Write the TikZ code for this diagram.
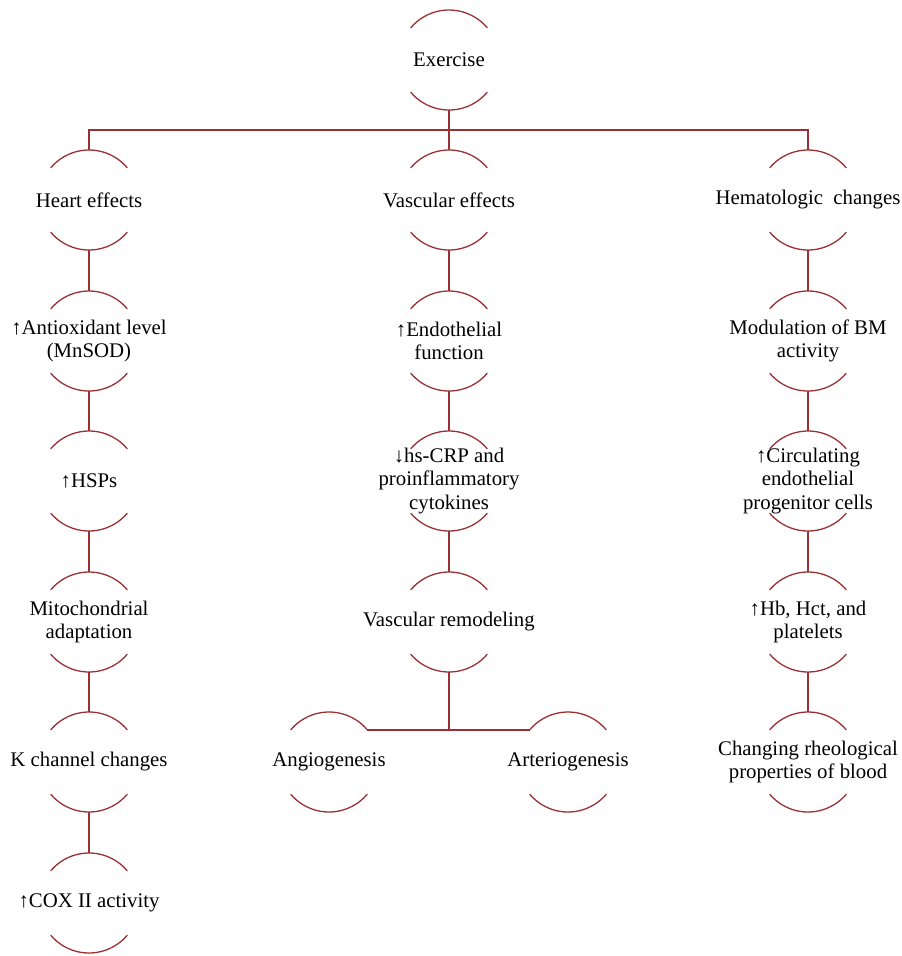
\documentclass[tikz,border=0pt]{standalone}
\usepackage{fontspec}
\setmainfont{Liberation Serif}
\definecolor{linered}{RGB}{155,48,52}
\tikzset{
  x=1pt, y=1pt,
  ring/.style={circle, draw=none, minimum size=100pt, inner sep=0pt, outer sep=0pt},
  txt/.style={align=center, font=\fontsize{20.8}{23.5}\selectfont, text=black, inner sep=0pt},
  conn/.style={draw=linered, line width=1.3pt},
}
\newcommand{\cell}[4]{%
  \node[ring] (#1) at (#2,#3) {};
  \node[txt] (#1-t) at (#1.center) {#4};
  \draw[conn] (#1.40) arc (40:140:50pt);
  \draw[conn] (#1.220) arc (220:320:50pt);
}
\begin{document}
\begin{tikzpicture}
\useasboundingbox (0,0) rectangle (902,-956);
% top
\cell{ex}{449}{-60}{Exercise}
% left column
\cell{heart}{89}{-200}{Heart effects}
\cell{anti}{89}{-341}{↑Antioxidant level\\(MnSOD)}
\cell{hsp}{89}{-481}{↑HSPs}
\cell{mito}{89}{-622}{Mitochondrial\\adaptation}
\cell{kch}{89}{-762}{K channel changes}
\cell{cox}{89}{-903}{↑COX II activity}
% middle column
\cell{vasc}{449}{-200}{Vascular effects}
\cell{endo}{449}{-341}{↑Endothelial\\function}
\cell{crp}{449}{-481}{↓hs-CRP and\\proinflammatory\\cytokines}
\cell{remod}{449}{-622}{Vascular remodeling}
\cell{angio}{329}{-762}{Angiogenesis}
\cell{arter}{568}{-762}{Arteriogenesis}
% right column
\cell{hema}{808}{-200}{Hematologic\hspace{0.5em}changes}
\cell{bm}{808}{-341}{Modulation of BM\\activity}
\cell{circ}{808}{-481}{↑Circulating\\endothelial\\progenitor cells}
\cell{hb}{808}{-622}{↑Hb, Hct, and\\platelets}
\cell{rheo}{808}{-762}{Changing rheological\\properties of blood}
% junctions
\coordinate (j1) at (449,-130);
\coordinate (j2) at (449,-731);
% connectors
\draw[conn] (ex.south) -- (vasc.north);
\draw[conn] (heart.north) |- (j1) -| (hema.north);
\draw[conn] (heart.south) -- (anti.north);
\draw[conn] (anti.south) -- (hsp.north);
\draw[conn] (hsp.south) -- (mito.north);
\draw[conn] (mito.south) -- (kch.north);
\draw[conn] (kch.south) -- (cox.north);
\draw[conn] (vasc.south) -- (endo.north);
\draw[conn] (endo.south) -- (crp.north);
\draw[conn] (crp.south) -- (remod.north);
\draw[conn] (remod.south) -- (j2);
\draw[conn] (angio.40) -- (arter.140);
\draw[conn] (hema.south) -- (bm.north);
\draw[conn] (bm.south) -- (circ.north);
\draw[conn] (circ.south) -- (hb.north);
\draw[conn] (hb.south) -- (rheo.north);
\end{tikzpicture}
\end{document}
